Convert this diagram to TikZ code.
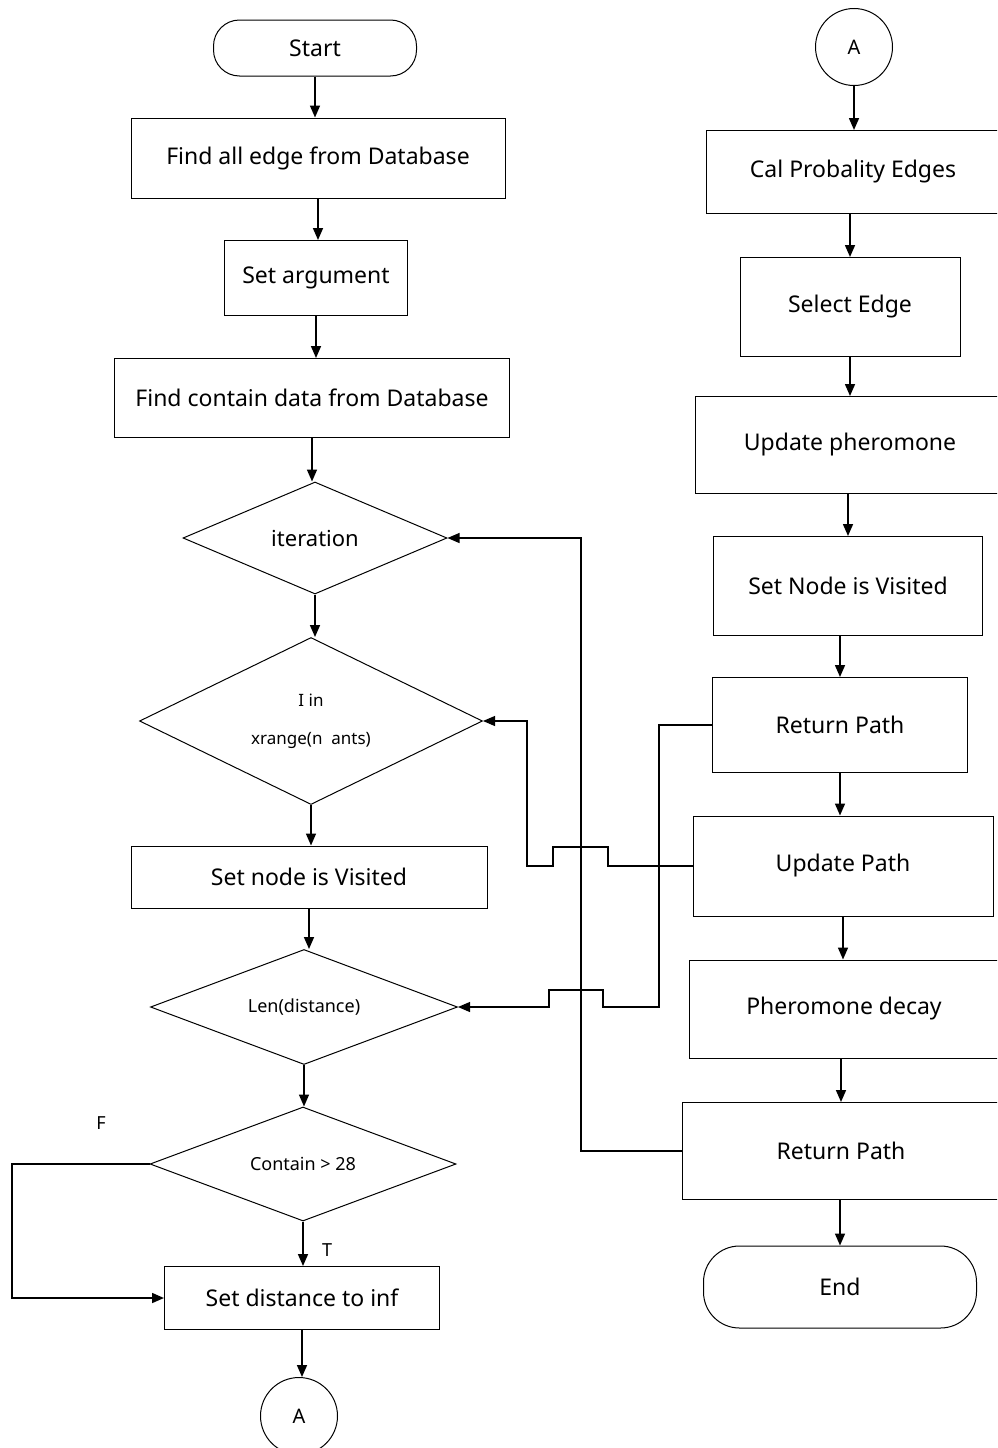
\documentclass[tikz,border=0pt]{standalone}
\usepackage{fontspec}
\setmainfont{Noto Sans}
\usetikzlibrary{arrows.meta,shapes.geometric}
\begin{document}
\begin{tikzpicture}[x=1pt,y=-1pt,
  box/.style={draw,line width=1pt,inner sep=0pt,font=\fontsize{23}{27}\selectfont},
  terminal/.style={box},
  dec/.style={draw,diamond,line width=1pt,inner sep=0pt,aspect=2.6,font=\fontsize{18}{21}\selectfont},
  conn/.style={draw,circle,line width=1pt,inner sep=0pt,minimum size=77pt,font=\fontsize{20}{24}\selectfont},
  flow/.style={line width=1.6pt,-{Triangle[length=12pt,width=10pt]}},
  link/.style={line width=1.1pt,-{Triangle[length=12pt,width=10pt]}},
  lbl/.style={font=\fontsize{18}{21}\selectfont}]
\useasboundingbox (0,0) rectangle (997,1448);
\fill[white] (0,0) rectangle (997,1448);
\clip (0,0) rectangle (997,1448);

% left column
\node[terminal, minimum width=203, minimum height=56, rounded corners=26] (start) at (315,48) {Start};
\node[box, minimum width=374, minimum height=80] (fe) at (318,158) {Find all edge from Database};
\node[box, minimum width=183, minimum height=75] (sa) at (316,278) {Set argument};
\node[box, minimum width=395, minimum height=79] (fc) at (312,398) {Find contain data from Database};
\node[dec, minimum width=264, minimum height=112, font=\fontsize{22}{26}\selectfont] (it) at (315,538) {iteration};
\node[dec, minimum width=343, minimum height=167, aspect=2.05, align=center, font=\fontsize{17}{38}\selectfont] (xr) at (311,721) {I in\\xrange(n\ \ ants)};
\node[box, minimum width=356, minimum height=62] (snv) at (309,877) {Set node is Visited};
\node[dec, minimum width=307, minimum height=115] (len) at (304,1007) {Len(distance)};
\node[dec, minimum width=306, minimum height=114] (ct) at (303,1164) {Contain > 28};
\node[box, minimum width=275, minimum height=63] (sd) at (302,1298) {Set distance to inf};
\node[conn] (a1) at (299,1416) {A};

\node[lbl] (lf) at (101,1123) {F};
\node[lbl] (lt) at (327,1250) {T};

% right column
\node[conn] (a2) at (854,47) {A};
\node[box, minimum width=294, minimum height=83] (cp) at (853,172) {Cal Probality Edges};
\node[box, minimum width=220, minimum height=99] (se) at (850,307) {Select Edge};
\node[box, minimum width=310, minimum height=97] (upd) at (850,445) {Update pheromone};
\node[box, minimum width=269, minimum height=99] (snv2) at (848,586) {Set Node is Visited};
\node[box, minimum width=255, minimum height=95] (rp1) at (840,725) {Return Path};
\node[box, minimum width=300, minimum height=100] (up) at (843,866) {Update Path};
\node[box, minimum width=310, minimum height=98] (pd) at (844,1009) {Pheromone decay};
\node[box, minimum width=318, minimum height=97] (rp2) at (841,1151) {Return Path};
\node[terminal, minimum width=273, minimum height=82, rounded corners=36] (end) at (840,1287) {End};

% main flow, left column
\draw[flow] (start.south) -- (start.south |- fe.north);
\draw[flow] (fe.south) -- (fe.south |- sa.north);
\draw[flow] (sa.south) -- (sa.south |- fc.north);
\draw[flow] (fc.south) -- (fc.south |- it.north);
\draw[flow] (it.south) -- (it.south |- xr.north);
\draw[flow] (xr.south) -- (xr.south |- snv.north);
\draw[flow] (snv.south) -- (snv.south |- len.north);
\draw[flow] (len.south) -- (len.south |- ct.north);
\draw[flow] (ct.south) -- (ct.south |- sd.north);
\draw[flow] (sd.south) -- (sd.south |- a1.north);
\draw[flow] (ct.west) -- (12,1164) |- (sd.west);

% main flow, right column
\draw[flow] (a2.south) -- (a2.south |- cp.north);
\draw[flow] (cp.south -| se.north) -- (se.north);
\draw[flow] (se.south) -- (se.south |- upd.north);
\draw[flow] (upd.south -| snv2.north) -- (snv2.north);
\draw[flow] (snv2.south -| rp1.north) -- (rp1.north);
\draw[flow] (rp1.south) -- (rp1.south |- up.north);
\draw[flow] (up.south) -- (up.south |- pd.north);
\draw[flow] (pd.south -| rp2.north) -- (rp2.north);
\draw[flow] (rp2.south -| end.north) -- (end.north);

% feedback lines with bridges
\draw[link] (up.west) -- (608,866) -- (608,847) -- (553,847) -- (553,866) -- (527,866) |- (xr.east);
\draw[link] (rp1.west) -| (659,1007) -- (603,1007) -- (603,990) -- (549,990) -- (549,1007) -- (len.east);
\draw[link] (rp2.west) -| (581,538) -- (it.east);
\end{tikzpicture}
\end{document}
